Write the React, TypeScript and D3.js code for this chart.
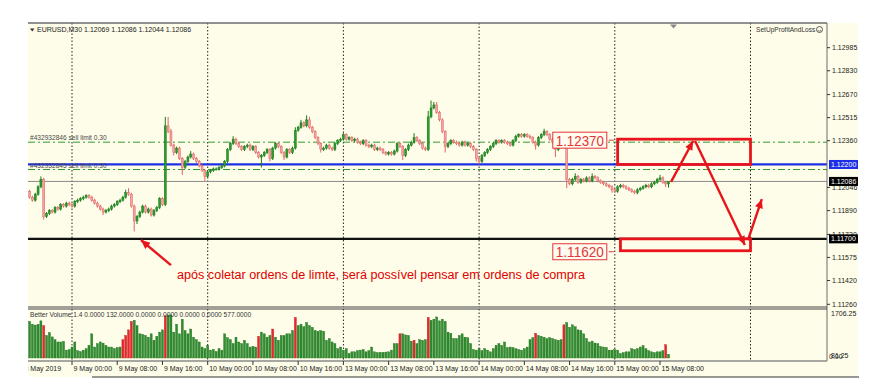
import * as d3 from "d3";

// EURUSD M30, prices stored as pips above 1.12000
const BASE = 1.12;
const firstOpenPips = 2;
const closePips = [
  -2, -4, 0, 5, 10, -15, -13, -11, -12, -9,
  -10, -7, -8, -6, -7, -8, -5, -4, -3, -2,
  -1, -2, -4, -6, -8, -10, -12, -11, -10, -8,
  -7, -5, -4, -2, 1, 0, -8, -18, -15, -12,
  -8, -12, -10, -14, -11, -9, -3, -7, 46, 42,
  33, 28, 31, 24, 18, 22, 25, 27, 24, 22,
  19, 16, 12, 15, 16, 17, 17, 18, 19, 22,
  30, 34, 37, 34, 32, 30, 32, 33, 30, 32,
  28, 25, 26, 28, 30, 24, 31, 34, 32, 28,
  25, 30, 28, 31, 43, 45, 48, 46, 50, 45,
  42, 38, 34, 30, 31, 33, 31, 30, 34, 36,
  37, 40, 37, 38, 36, 37, 35, 34, 36, 33,
  32, 33, 30, 31, 30, 28, 27, 28, 27, 29,
  34, 32, 26, 30, 33, 35, 38, 36, 34, 31,
  30, 52, 58, 60, 55, 50, 42, 32, 34, 36,
  35, 34, 33, 35, 33, 34, 32, 30, 24, 22,
  26, 28, 30, 32, 34, 36, 35, 36, 35, 34,
  33, 36, 39, 40, 39, 40, 39, 38, 35, 33,
  38, 40, 42, 40, 37, 35, 30, 32, 33, 32,
  10, 7, 10, 12, 8, 10, 9, 11, 9, 12,
  11, 9, 8, 7, 6, 5, 3, 2, 5, 6,
  5, 4, 3, 2, 1, 3, 4, 5, 6, 5,
  7, 8, 10, 11, 8, 6.9, 8.6,
];
const wickUpPips = [
  1, 1, 1, 1, 2, 1, 1, 1, 1, 1,
  1, 1, 1, 1, 1, 1, 1, 1, 1, 1,
  1, 1, 1, 1, 1, 1, 1, 1, 1, 1,
  1, 1, 1, 1, 2, 3, 1, 1, 1, 1,
  1, 1, 1, 1, 1, 1, 1, 1, 6, 6,
  2, 1, 1, 1, 1, 1, 1, 2, 1, 1,
  1, 1, 1, 1, 1, 1, 1, 1, 1, 1,
  1, 1, 2, 1, 1, 1, 1, 1, 1, 1,
  1, 1, 1, 1, 1, 1, 1, 1, 1, 1,
  1, 1, 1, 1, 2, 1, 2, 1, 3, 2,
  1, 1, 1, 1, 1, 1, 1, 1, 1, 1,
  1, 1, 1, 1, 1, 1, 1, 1, 1, 1,
  1, 1, 1, 1, 1, 1, 1, 1, 1, 1,
  1, 1, 1, 1, 1, 1, 3, 1, 1, 1,
  1, 4, 5, 2, 2, 1, 1, 1, 1, 1,
  1, 1, 1, 1, 1, 1, 1, 1, 1, 1,
  1, 1, 1, 1, 1, 1, 1, 1, 1, 1,
  1, 1, 1, 1, 1, 1, 1, 1, 1, 1,
  1, 1, 2, 1, 1, 1, 1, 1, 1, 1,
  1, 1, 1, 2, 1, 1, 1, 1, 1, 2,
  1, 1, 1, 1, 1, 1, 1, 1, 1, 1,
  1, 1, 1, 1, 1, 1, 1, 1, 1, 1,
  1, 1, 1, 2, 1, 1, 0,
];
const wickDnPips = [
  1, 1, 1, 1, 1, 2, 1, 1, 1, 1,
  1, 1, 1, 1, 1, 1, 1, 1, 1, 1,
  1, 1, 1, 1, 1, 1, 2, 1, 1, 1,
  1, 1, 1, 1, 1, 1, 1, 7, 2, 1,
  1, 1, 1, 1, 1, 1, 1, 1, 1, 1,
  1, 2, 1, 1, 5, 1, 1, 1, 1, 1,
  1, 1, 3, 1, 1, 1, 1, 1, 1, 1,
  1, 1, 1, 1, 1, 1, 1, 1, 1, 1,
  1, 1, 7, 1, 1, 2, 1, 1, 1, 1,
  2, 1, 1, 1, 1, 1, 1, 1, 1, 1,
  1, 1, 1, 2, 1, 1, 1, 1, 1, 1,
  1, 1, 1, 1, 1, 1, 1, 1, 1, 1,
  1, 1, 1, 1, 1, 1, 1, 1, 1, 1,
  1, 1, 3, 1, 1, 1, 1, 1, 1, 1,
  1, 1, 1, 1, 1, 1, 1, 4, 1, 1,
  1, 1, 1, 1, 1, 1, 1, 1, 2, 2,
  1, 1, 1, 1, 1, 1, 1, 1, 1, 1,
  1, 1, 1, 1, 1, 1, 1, 1, 1, 3,
  1, 1, 1, 1, 1, 1, 5, 1, 1, 1,
  6, 1, 1, 1, 1, 1, 1, 1, 1, 1,
  1, 1, 1, 1, 1, 1, 2, 1, 1, 1,
  1, 1, 1, 1, 1, 1, 1, 1, 1, 1,
  1, 1, 1, 1, 1, 2, 2.5,
];
const volumes = [
  1300, 1200, 1170, 1200, 1320, 1150, 800, 900, 750, 650,
  570, 570, 590, 280, 300, 390, 570, 260, 230, 280,
  330, 450, 860, 390, 510, 570, 530, 450, 390, 390,
  330, 370, 390, 650, 800, 1000, 1300, 1340, 1150, 860,
  840, 800, 740, 860, 630, 770, 920, 1000, 1500, 1530,
  1530, 920, 1200, 860, 1380, 975, 860, 1030, 740, 650,
  570, 390, 330, 450, 280, 300, 230, 330, 280, 860,
  720, 650, 510, 740, 570, 510, 630, 510, 390, 410,
  390, 770, 920, 860, 740, 800, 1030, 740, 630, 800,
  800, 860, 860, 975, 1440, 1150, 1200, 1110, 1260, 1150,
  1090, 975, 950, 975, 950, 630, 690, 570, 510, 330,
  390, 280, 330, 160, 220, 220, 260, 280, 300, 220,
  260, 390, 220, 190, 200, 200, 210, 220, 280, 510,
  510, 860, 860, 820, 800, 600, 630, 510, 650, 630,
  650, 1440, 1340, 1380, 1460, 1320, 1380, 1300, 920, 880,
  690, 690, 800, 860, 740, 720, 510, 300, 280, 330,
  260, 330, 280, 220, 330, 450, 510, 450, 570, 370,
  390, 370, 330, 300, 280, 330, 390, 650, 720, 880,
  800, 770, 740, 690, 720, 690, 650, 630, 650, 1180,
  1260, 1090, 1180, 1110, 1000, 975, 860, 690, 570, 600,
  530, 510, 410, 390, 370, 280, 280, 300, 280, 160,
  190, 220, 220, 330, 300, 330, 390, 440, 330, 260,
  220, 190, 220, 220, 260, 470, 132,
];
const climaxBars = [5, 33, 34, 35, 36, 48, 81, 86, 94, 131, 136, 141, 179, 189, 225];

const priceTicks = [1.12985, 1.1283, 1.1267, 1.12515, 1.1236, 1.12046, 1.1189, 1.1173, 1.11575, 1.1142, 1.1126];
const timeLabels = [
  { i: 0, t: "8 May 2019" },
  { i: 15, t: "9 May 00:00" },
  { i: 31, t: "9 May 08:00" },
  { i: 47, t: "9 May 16:00" },
  { i: 63, t: "10 May 00:00" },
  { i: 79, t: "10 May 08:00" },
  { i: 95, t: "10 May 16:00" },
  { i: 111, t: "13 May 00:00" },
  { i: 127, t: "13 May 08:00" },
  { i: 143, t: "13 May 16:00" },
  { i: 159, t: "14 May 00:00" },
  { i: 175, t: "14 May 08:00" },
  { i: 191, t: "14 May 16:00" },
  { i: 207, t: "15 May 00:00" },
  { i: 223, t: "15 May 08:00" },
];
const dayLines = [15, 63, 111, 159, 207, 255];
const priceMarks = [
  { price: 1.122, text: "1.12200", fill: "#1d2fe6" },
  { price: 1.12086, text: "1.12086", fill: "#000" },
  { price: 1.117, text: "1.11700", fill: "#000" },
];
const sellLimits = [
  { price: 1.1235, text: "#432932846 sell limit 0.30" },
  { price: 1.12166, text: "#432932845 sell limit 0.30" },
];
const zones = [
  { from: 208, to: 255, hi: 1.1237, lo: 1.122 },
  { from: 209, to: 255, hi: 1.117, lo: 1.1162 },
];
const zoneLabels = [
  { price: 1.1237, text: "1.12370" },
  { price: 1.1162, text: "1.11620" },
];
// [fromIndex, fromPrice, toIndex, toPrice]
const arrows = [
  [226.9, 1.12083, 234.7, 1.12358],
  [235.4, 1.12358, 253, 1.11658],
  [254.1, 1.11692, 259, 1.11967],
  [50, 1.11523, 39.4, 1.11692],
];
const note = "após coletar ordens de limte, será possível pensar em ordens de compra";

const W = 876;
const H = 386;
const L = 28;
const R = 827;
const TOP = 23;
const MAIN_B = 307;
const VOL_T = 309;
const VOL_B = 361;
const FONT = "Liberation Sans, Arial, sans-serif";
const BG = "#fefde9";

export default function App() {
  const x = d3.scaleLinear().domain([15, 255]).range([72, 750.5]);
  const y = d3.scaleLinear().domain([1.12985, 1.1126]).range([47.7, 304.3]);
  const vy = d3.scaleLinear().domain([0, 1706.25]).range([358, 310]);
  const px = (p: number) => BASE + p / 10000;

  const bars = closePips.map((c, i) => {
    const o = i === 0 ? firstOpenPips : closePips[i - 1];
    const top = Math.max(o, c);
    const bot = Math.min(o, c);
    return { i, bull: c >= o, top, bot, hi: top + wickUpPips[i], lo: bot - wickDnPips[i] };
  });

  const arrowHead = (x1: number, y1: number, x2: number, y2: number) => {
    const a = Math.atan2(y2 - y1, x2 - x1);
    const len = 9;
    const hw = 4;
    const bx = x2 - len * Math.cos(a);
    const by = y2 - len * Math.sin(a);
    const nx = -Math.sin(a) * hw;
    const ny = Math.cos(a) * hw;
    return `M${x2},${y2}L${bx + nx},${by + ny}L${bx - nx},${by - ny}Z`;
  };

  const red = "#e8141c";

  return (
    <div style={{ position: "fixed", left: 0, top: 0 }}>
      <svg width={W} height={H} style={{ display: "block", background: "#fff" }}>
        <defs>
          <clipPath id="mainClip">
            <rect x={L} y={TOP} width={R - L} height={MAIN_B - TOP} />
          </clipPath>
          <clipPath id="volClip">
            <rect x={L} y={VOL_T} width={R - L} height={VOL_B - VOL_T} />
          </clipPath>
          <clipPath id="axisClip">
            <rect x={L} y={VOL_B} width={R - L} height={16} />
          </clipPath>
        </defs>

        <rect x={L} y={TOP} width={858 - L} height={377 - TOP} fill={BG} />

        {/* day separators */}
        {dayLines.map((d) => (
          <g key={d}>
            <line x1={x(d)} x2={x(d)} y1={TOP} y2={MAIN_B} stroke="#222" strokeDasharray="1.5 2" />
            <line x1={x(d)} x2={x(d)} y1={VOL_T} y2={VOL_B} stroke="#222" strokeDasharray="1.5 2" />
          </g>
        ))}

        <g clipPath="url(#mainClip)">
          {/* sell limit lines */}
          {sellLimits.map((s) => (
            <line key={s.text} x1={L} x2={R} y1={y(s.price)} y2={y(s.price)} stroke="#2f9a2f" strokeDasharray="7 3 2 3" />
          ))}
          {/* bid line */}
          <line x1={L} x2={R} y1={y(1.12086)} y2={y(1.12086)} stroke="#8a8a8a" strokeWidth={1} />
          <line x1={L} x2={R} y1={y(1.122)} y2={y(1.122)} stroke="#1d2fe6" strokeWidth={2.2} />
          <line x1={L} x2={R} y1={y(1.117)} y2={y(1.117)} stroke="#111" strokeWidth={2.2} />

          {/* candles */}
          {bars.map((b) => {
            const cx = x(b.i);
            const yt = y(px(b.top));
            const yb = y(px(b.bot));
            const stroke = b.bull ? "#1b7a1b" : "#e06464";
            const fill = b.bull ? "#2c9a2c" : "#f2a4a4";
            return (
              <g key={b.i}>
                <line x1={cx} x2={cx} y1={y(px(b.hi))} y2={y(px(b.lo))} stroke={stroke} strokeWidth={1} />
                <rect x={cx - 1} y={yt} width={2} height={Math.max(1, yb - yt)} fill={fill} stroke={stroke} strokeWidth={0.5} />
              </g>
            );
          })}

          {sellLimits.map((s) => (
            <text key={s.text} x={30} y={y(s.price) - 2} fontFamily={FONT} fontSize={6.6} fill="#4a4a4a">
              {s.text}
            </text>
          ))}
        </g>

        {/* header */}
        <path d="M30,28.5L34.5,28.5L32.25,31.5Z" fill="#333" />
        <text x={37} y={32} fontFamily={FONT} fontSize={7} fill="#222">
          EURUSD,M30  1.12069 1.12086 1.12044 1.12086
        </text>
        <text x={756} y={32} fontFamily={FONT} fontSize={6.6} fill="#333">
          SetUpProfitAndLoss
        </text>
        <circle cx={819.5} cy={29.5} r={3} fill="none" stroke="#333" strokeWidth={0.8} />
        <path d="M817.8,30.3Q819.5,32 821.2,30.3" fill="none" stroke="#333" strokeWidth={0.6} />
        <path d="M670,24.5L677,24.5L673.5,28.5Z" fill="#888" />

        {/* frames */}
        <line x1={L} x2={R} y1={TOP} y2={TOP} stroke="#6c6c6c" strokeWidth={1.5} />
        <line x1={R} x2={R} y1={TOP} y2={VOL_B} stroke="#6c6c6c" strokeWidth={1} />
        <line x1={L} x2={R} y1={MAIN_B} y2={MAIN_B} stroke="#444" strokeWidth={1} />
        <line x1={L} x2={R} y1={VOL_T} y2={VOL_T} stroke="#444" strokeWidth={1} />
        <line x1={L} x2={R} y1={VOL_B} y2={VOL_B} stroke="#8a8a8a" strokeWidth={1.5} />
        <line x1={92} x2={859} y1={377} y2={377} stroke="#333" strokeWidth={1.2} />

        {/* price axis */}
        {priceTicks.map((t) => (
          <g key={t}>
            <line x1={R} x2={R + 3} y1={y(t)} y2={y(t)} stroke="#333" />
            <text x={R + 5} y={y(t) + 2.5} fontFamily={FONT} fontSize={7} fill="#222">
              {t.toFixed(5)}
            </text>
          </g>
        ))}
        {priceMarks.map((m) => (
          <g key={m.text}>
            <rect x={R + 2} y={y(m.price) - 4.5} width={29} height={9} fill={m.fill} />
            <text x={R + 4} y={y(m.price) + 2.6} fontFamily={FONT} fontSize={7} fill="#fff">
              {m.text}
            </text>
          </g>
        ))}

        {/* volume panel */}
        <g clipPath="url(#volClip)">
          {volumes.map((v, i) => (
            <rect
              key={i}
              x={x(i) - 1}
              y={vy(v)}
              width={2}
              height={vy(0) - vy(v)}
              fill={climaxBars.includes(i) ? "#e8262b" : "#2e8f2e"}
              stroke={climaxBars.includes(i) ? "#c41a1a" : "#1d6d1d"}
              strokeWidth={0.4}
            />
          ))}
        </g>
        <text x={30} y={317} fontFamily={FONT} fontSize={6.6} fill="#333">
          Better Volume 1.4 0.0000 132.0000 0.0000 0.0000 0.0000 0.0000 577.0000
        </text>
        <text x={R + 4} y={316} fontFamily={FONT} fontSize={7} fill="#222">1706.25</text>
        <text x={R + 4} y={358} fontFamily={FONT} fontSize={7} fill="#222">81.25</text>
        <text x={R + 2} y={358.5} fontFamily={FONT} fontSize={7} fill="#222">0.00</text>

        {/* time axis */}
        <g clipPath="url(#axisClip)">
          {timeLabels.map((t) => (
            <g key={t.t}>
              {t.i > 0 && <line x1={x(t.i)} x2={x(t.i)} y1={VOL_B} y2={VOL_B + 4} stroke="#333" />}
              <text x={t.i > 0 ? x(t.i) + 1.5 : 24.5} y={371} fontFamily={FONT} fontSize={7} fill="#222">
                {t.t}
              </text>
            </g>
          ))}
        </g>

        {/* annotations */}
        {zones.map((z, k) => (
          <rect
            key={k}
            x={x(z.from)}
            y={y(z.hi)}
            width={x(z.to) - x(z.from)}
            height={y(z.lo) - y(z.hi)}
            fill="none"
            stroke={red}
            strokeWidth={2.8}
          />
        ))}
        {zoneLabels.map((z) => {
          const cy = y(z.price) + 1;
          const bx = x(207) - 62;
          return (
            <g key={z.text}>
              <rect x={bx} y={cy - 8} width={54} height={16} fill="#fffbee" stroke="#e3343a" strokeWidth={1} />
              <text x={bx + 3} y={cy + 5.5} fontFamily={FONT} fontSize={15} fill="#e3343a" textLength={48} lengthAdjust="spacingAndGlyphs">
                {z.text}
              </text>
              <line x1={bx + 56} x2={bx + 61} y1={cy} y2={cy} stroke="#e3343a" />
            </g>
          );
        })}
        {arrows.map((a, k) => {
          const x1 = x(a[0]);
          const y1 = y(a[1]);
          const x2 = x(a[2]);
          const y2 = y(a[3]);
          return (
            <g key={k}>
              <line x1={x1} y1={y1} x2={x2} y2={y2} stroke={red} strokeWidth={2.4} />
              <path d={arrowHead(x1, y1, x2, y2)} fill={red} />
            </g>
          );
        })}
        <text x={177} y={279} fontFamily={FONT} fontSize={12} fill="#e00000" textLength={408} lengthAdjust="spacingAndGlyphs">
          {note}
        </text>
      </svg>
    </div>
  );
}
